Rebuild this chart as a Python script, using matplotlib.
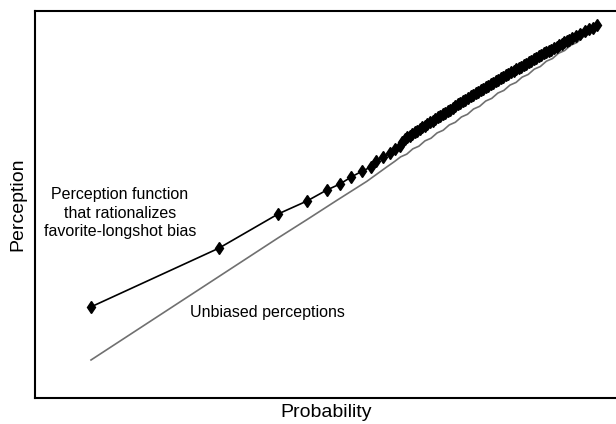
import matplotlib
matplotlib.use("Agg")
import matplotlib.pyplot as plt

plt.rcParams['font.family'] = ['Liberation Sans', 'DejaVu Sans']

# Probability (x) and perception (y) for the perception function markers
prob = [0.000, 0.253, 0.370, 0.427, 0.466, 0.492, 0.514, 0.536, 0.553, 0.563,
        0.577, 0.591, 0.601, 0.610, 0.615,
        0.620, 0.625, 0.630, 0.635, 0.640, 0.645, 0.650, 0.655, 0.660, 0.665,
        0.670, 0.675, 0.680, 0.685, 0.690, 0.695, 0.700, 0.705, 0.710, 0.715,
        0.720, 0.725, 0.730, 0.735, 0.740, 0.745, 0.750, 0.755, 0.760, 0.765,
        0.770, 0.775, 0.780, 0.785, 0.790, 0.795, 0.800, 0.805, 0.810, 0.815,
        0.820, 0.825, 0.830, 0.835, 0.840, 0.845, 0.850, 0.855, 0.860, 0.865,
        0.870, 0.875, 0.880, 0.885, 0.890, 0.895, 0.900, 0.905, 0.910, 0.915,
        0.920, 0.925, 0.930, 0.935, 0.940, 0.945, 0.950,
        0.958, 0.967, 0.976, 0.985, 0.992, 1.000]
perception = [0.160, 0.337, 0.440, 0.479, 0.512, 0.530, 0.551, 0.569, 0.581, 0.599,
              0.611, 0.623, 0.636, 0.646, 0.656,
              0.665, 0.671, 0.676, 0.682, 0.687, 0.691, 0.696, 0.701, 0.706, 0.710,
              0.716, 0.720, 0.725, 0.731, 0.735, 0.740, 0.745, 0.750, 0.754, 0.760,
              0.764, 0.770, 0.774, 0.779, 0.784, 0.789, 0.794, 0.798, 0.803, 0.807,
              0.812, 0.816, 0.821, 0.825, 0.830, 0.834, 0.839, 0.843, 0.848, 0.852,
              0.857, 0.861, 0.866, 0.870, 0.875, 0.879, 0.884, 0.888, 0.893, 0.897,
              0.902, 0.906, 0.910, 0.915, 0.919, 0.924, 0.928, 0.931, 0.935, 0.939,
              0.944, 0.948, 0.952, 0.957, 0.961, 0.965, 0.969,
              0.975, 0.983, 0.990, 0.998, 1.001, 1.010]

# Unbiased perceptions (perception equals probability)
unbiased_x = [0.000, 0.368, 0.427, 0.486, 0.545, 0.585, 0.600, 0.612, 0.624, 0.636,
              0.648, 0.660, 0.672, 0.684, 0.696, 0.708, 0.720, 0.732, 0.744, 0.756,
              0.768, 0.780, 0.792, 0.804, 0.816, 0.828, 0.840, 0.852, 0.864, 0.876,
              0.888, 0.900, 0.912, 0.924, 0.936, 0.948, 0.960, 0.972, 0.984, 1.000]
unbiased_y = [0.000, 0.366, 0.423, 0.481, 0.538, 0.582, 0.598, 0.612, 0.620, 0.636,
              0.644, 0.660, 0.668, 0.684, 0.692, 0.708, 0.716, 0.732, 0.740, 0.756,
              0.764, 0.780, 0.788, 0.804, 0.812, 0.828, 0.836, 0.852, 0.860, 0.876,
              0.884, 0.900, 0.908, 0.924, 0.932, 0.948, 0.956, 0.972, 0.982, 0.997]

fig = plt.figure(figsize=(6.16, 4.24), dpi=100)
ax = fig.add_axes([35/616, 26/424, 583/616, 387/424])

ax.plot(unbiased_x, unbiased_y, color='#707070', lw=1.2)
ax.plot(prob, perception, color='black', lw=1.2, marker='d', markersize=6,
        markerfacecolor='black', markeredgecolor='black')

ax.set_xlim(-0.1107, 1.0415)
ax.set_ylim(-0.1145, 1.0512)
ax.set_xticks([])
ax.set_yticks([])
for s in ['left', 'top', 'bottom']:
    ax.spines[s].set_linewidth(1.5)
    ax.spines[s].set_color('black')
ax.spines['right'].set_visible(False)

ax.set_xlabel('Probability', fontsize=14, labelpad=4)
ax.set_ylabel('Perception', fontsize=14, labelpad=6)

fig.text(120/616, 1 - 213/424, 'Perception function\nthat rationalizes\nfavorite-longshot bias',
         ha='center', va='center', fontsize=11.5, linespacing=1.3)
fig.text(190/616, 1 - 313/424, 'Unbiased perceptions', ha='left', va='center', fontsize=11.5)

fig.savefig('out.png', dpi=100)
